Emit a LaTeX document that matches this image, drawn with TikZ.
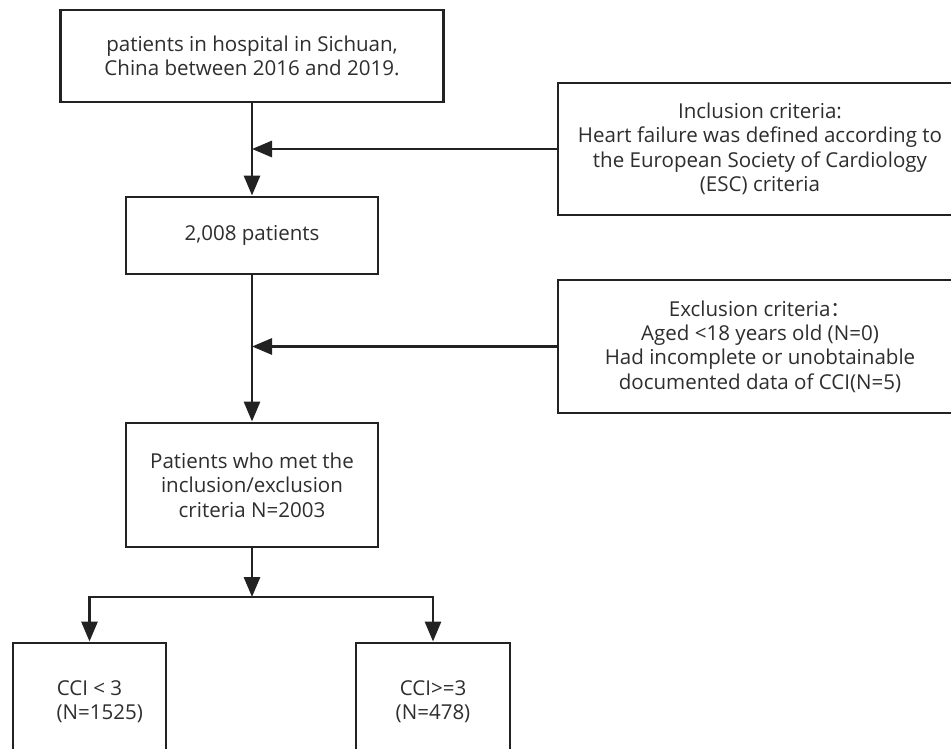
\documentclass[tikz,border=0pt]{standalone}
\usepackage{fontspec}
\setmainfont{Open Sans}
\newfontfamily\cjk{Noto Sans CJK SC}
\usetikzlibrary{arrows.meta}
\definecolor{ink}{HTML}{222222}
\definecolor{txt}{HTML}{2E2E2E}
\tikzset{
  box/.style={draw=ink, line width=2.2pt, rectangle, align=center, text=txt,
    font=\fontsize{15.4}{18.3}\selectfont, inner sep=2pt},
  arr/.style={draw=ink, line width=2.2pt, -{Triangle[length=15pt,width=12pt]}},
  ln/.style={draw=ink, line width=2.2pt}
}
\begin{document}
\begin{tikzpicture}[x=0.75pt,y=-0.75pt]
\useasboundingbox (0,0) rectangle (951,749);
\clip (0,0) rectangle (951,749);
\fill[white] (0,0) rectangle (951,749);
\node[box, minimum width=287.25pt, minimum height=69pt] (top) at (252,56)
  {patients in hospital in Sichuan,\\China between 2016 and 2019.};
\node[box, minimum width=303pt, minimum height=99pt] (incl) at (760,149)
  {Inclusion criteria:\\Heart failure was defined according to\\the European Society of Cardiology\\(ESC) criteria};
\node[box, minimum width=189pt, minimum height=57.75pt] (n2008) at (252,235.5)
  {2,008 patients};
\node[box, minimum width=303pt, minimum height=99.75pt] (excl) at (760,346.5)
  {Exclusion criteria{\cjk ：}\\Aged {<}18 years old (N=0)\\Had incomplete or unobtainable\\documented data of CCI(N=5)};
\node[box, minimum width=189pt, minimum height=93pt] (met) at (252,485)
  {Patients who met the\\inclusion/exclusion\\criteria N=2003};
\node[box, minimum width=114.75pt, minimum height=87.75pt] (lo) at (89.5,701.5)
  {CCI {<} 3\\\hspace*{1em}(N=1525)};
\node[box, minimum width=115.5pt, minimum height=87.75pt] (hi) at (433,701.5)
  {CCI{>}=3\\(N=478)};
\coordinate (br) at (252,597);
\draw[arr] (top.south) -- (n2008.north);
\draw[arr] (incl.west) -- (incl.west -| top.south);
\draw[arr] (n2008.south) -- (met.north);
\draw[arr] (excl.west) -- (excl.west -| n2008.south);
\draw[arr] (met.south) -- (br);
\draw[arr] (br) -| (lo.north);
\draw[arr] (br) -| (hi.north);
\end{tikzpicture}
\end{document}
